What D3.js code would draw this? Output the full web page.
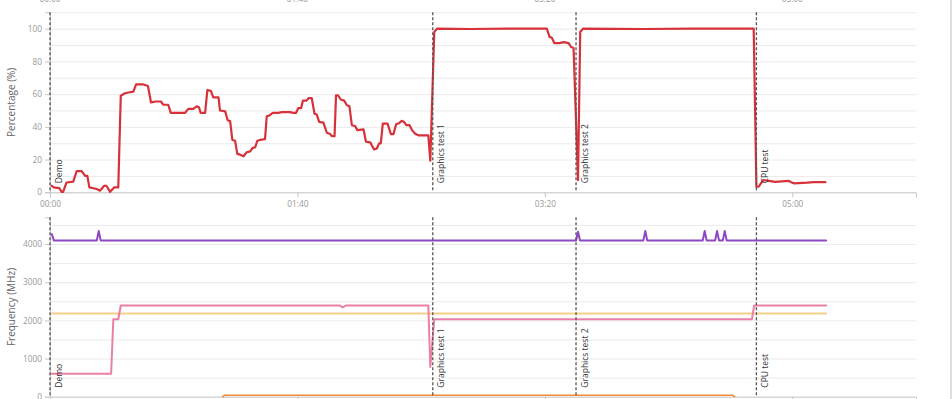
<!DOCTYPE html>
<html>
<head>
<meta charset="utf-8">
<script src="https://cdn.jsdelivr.net/npm/d3@7"></script>
<style>
  html, body { margin: 0; padding: 0; background: #fff; }
  svg { display: block; font-family: "Open Sans", sans-serif; }
</style>
</head>
<body>
<svg id="chart" width="952" height="399"></svg>
<script>
// ---------- data ----------
const timeTicks = [0, 100, 200, 300];
const timeTickLabels = ["00:00", "01:40", "03:20", "05:00"];

const eventNames = ["Demo", "Graphics test 1", "Graphics test 2", "CPU test"];
const eventTimes = [0, 154.7, 212.6, 285.5];

const pctTicks = [0, 20, 40, 60, 80, 100];
const freqTicks = [0, 1000, 2000, 3000, 4000];

// Percentage (%) series
const loadTimes = [0.7,1.5,3.8,4.7,5.3,6.7,9.4,10.8,12.8,14.2,15.1,15.9,18.9,20.2,21.9,22.8,24.3,25.9,27.6,28.6,30.3,31.7,33.7,34.8,37.5,39.6,40.8,42.9,44.8,45.8,47.8,48.8,54.6,55.9,57.9,59.3,60.2,60.9,62.7,63.6,65,66,68.1,68.7,70.8,71.8,72.8,73.7,74.8,75.7,76.8,78.2,79.5,80.9,81.8,82.9,83.8,84.9,86.9,87.6,88.7,90,92.3,93.7,97,98.4,99.4,100.4,101.5,102.2,103.6,104.5,105.8,106.9,107.8,108.8,110.5,111.9,113.2,113.9,115,115.6,116.4,117.5,118.9,120,121,122,123.3,124.2,126.7,127.7,129.4,131,132.1,133,133.7,134.5,136.4,137.8,138.8,139.9,141.2,142.2,143.1,144,145.3,146.3,147.6,148.9,152.9,153.7,155.3,156.4,170,185,200.8,201.9,202.8,203.8,205.9,207.6,209.6,210.6,211.6,213.4,214.3,215.4,240,260,284.4,285.5,286.4,287.5,288.4,290.4,293.1,295.8,298.5,299.9,300.6,306,308.7,313.4];
const loadValues = [4,3,2.5,0.3,0.3,6,6.5,13,13,10,10,3,2,1,4,4,0.3,3,3,59,60.5,61,61.5,66,66,65,55,55.5,55.5,53.5,53.5,48.5,48.5,51,51,52.5,52,48.5,48.5,62.5,62,58,58,50,49.5,44,43.5,32,31.5,23.5,23,22,24.5,25,27,27.5,31.5,32,32.5,46.5,47,48.5,48.5,49,49,48.5,48.5,51.5,51.5,56,56,57.5,57.5,48,47.5,43,42.6,36.4,35.6,34.3,34.3,59.3,59.3,56.7,56,53.2,52.6,41,40.5,38,38.5,30.9,30.5,26.2,26.8,29.9,29.9,42,42,35.5,35.5,41.6,42.4,43.7,43,41,41,38,35.8,34.8,34.8,19.3,98,100,99.8,100,100,95,94.5,91.2,91.2,91.8,91.2,88.8,88.2,7.5,98,100,99.8,100,100,3.4,3.4,5.9,7.5,7,6.4,6.7,7,5.9,5.5,5.9,6.2,6.2];

// Frequency (MHz) series
const cpuClockTimes = [0.7,1.6,18.9,19.7,20.5,212.6,213.4,214.2,239.8,240.6,241.4,263.8,264.6,265.4,268.8,269.6,270.4,271.9,272.7,273.5,313.7];
const cpuClockValues = [4260,4090,4090,4340,4090,4090,4320,4090,4090,4340,4090,4090,4340,4090,4090,4340,4090,4090,4340,4090,4090];

const gpuClockTimes = [0.7,24.7,25.6,27.6,28.6,117,118.3,119.7,152.9,153.7,155.3,283.7,284.6,313.7];
const gpuClockValues = [600,600,2030,2030,2390,2390,2340,2390,2390,780,2030,2030,2390,2390];

const memClockTimes = [0.7,313.7];
const memClockValues = [2180,2180];

const otherTimes = [69.8,70.5,276,276.6];
const otherValues = [0,37,37,0];

// ---------- layout ----------
const svg = d3.select("#chart");
const left = 50, right = 916;
const x = d3.scaleLinear().domain([0, 350]).range([left, right]);
const fmt = s => timeTickLabels[timeTicks.indexOf(s)];

const panels = [
  { top: 12.3, bottom: 192.3, domain: [0, 110], grid: d3.range(0, 111, 10), ticks: pctTicks, title: "Percentage (%)" },
  { top: 217.3, bottom: 396.7, domain: [0, 4700], grid: d3.range(0, 4501, 500), ticks: freqTicks, title: "Frequency (MHz)" }
];

const axisColor = "#c8c8c8";
const tickTextColor = "#999";

function styleAxis(g) {
  g.selectAll("path.domain").attr("stroke", axisColor).attr("stroke-width", 1);
  g.selectAll(".tick line").attr("stroke", axisColor);
  g.selectAll(".tick text").attr("fill", tickTextColor).style("font-size", "8.3px").style("font-family", "Open Sans");
}

// cut-off labels of the panel above
svg.append("g").selectAll("text").data(timeTicks).join("text")
  .attr("x", d => x(d)).attr("y", 1.5).attr("text-anchor", "middle")
  .attr("fill", tickTextColor).style("font-size", "8.3px").text(fmt);

panels.forEach((p, i) => {
  const y = d3.scaleLinear().domain(p.domain).range([p.bottom, p.top]);
  p.y = y;
  const g = svg.append("g");
  // gridlines
  g.append("g").selectAll("line").data(p.grid).join("line")
    .attr("x1", left).attr("x2", right)
    .attr("y1", d => y(d) + 0.5).attr("y2", d => y(d) + 0.5)
    .attr("stroke", "#ebebeb").attr("stroke-width", 1);
  // x axis
  const xa = g.append("g").attr("transform", `translate(0,${p.bottom})`)
    .call(d3.axisBottom(x).tickValues(timeTicks).tickFormat(fmt).tickSize(5).tickPadding(4));
  styleAxis(xa);
  // y axis
  const ya = g.append("g").attr("transform", `translate(${left},0)`)
    .call(d3.axisLeft(y).tickValues(p.ticks).tickFormat(d3.format("d")).tickSize(5).tickPadding(3));
  styleAxis(ya);
  // title
  g.append("text")
    .attr("transform", `translate(15,${(p.top + p.bottom) / 2}) rotate(-90)`)
    .attr("text-anchor", "middle").attr("fill", "#666")
    .style("font-size", "10px").text(p.title);
});

function drawLine(panel, times, values, color, width) {
  const pts = times.map((t, i) => [t, values[i]]);
  svg.append("path").datum(pts)
    .attr("fill", "none").attr("stroke", color).attr("stroke-width", width)
    .attr("stroke-linejoin", "round").attr("stroke-linecap", "round")
    .attr("d", d3.line().x(d => x(d[0])).y(d => panel.y(d[1])));
}

drawLine(panels[0], loadTimes, loadValues, "#d7313a", 2.2);
drawLine(panels[1], otherTimes, otherValues, "#f28c38", 1.6);
drawLine(panels[1], memClockTimes, memClockValues, "#f5d08a", 2);
drawLine(panels[1], gpuClockTimes, gpuClockValues, "#ea7fa8", 2);
drawLine(panels[1], cpuClockTimes, cpuClockValues, "#8e48c6", 2);

// event markers
panels.forEach(p => {
  const g = svg.append("g");
  g.selectAll("line").data(eventTimes).join("line")
    .attr("x1", d => x(d)).attr("x2", d => x(d))
    .attr("y1", p.top).attr("y2", p.bottom)
    .attr("stroke", "#555").attr("stroke-width", 1.3).attr("stroke-dasharray", "3,2");
  g.selectAll("text").data(eventNames).join("text")
    .attr("transform", (d, i) => `translate(${x(eventTimes[i]) + 11.5},${p.bottom - 9}) rotate(-90)`)
    .attr("text-anchor", "start").attr("fill", "#333")
    .style("font-size", "8.5px").text(d => d);
});

// right border
svg.append("line").attr("x1", 951).attr("x2", 951).attr("y1", 0).attr("y2", 399)
  .attr("stroke", "#d4d4d4").attr("stroke-width", 1.5);
</script>
</body>
</html>
